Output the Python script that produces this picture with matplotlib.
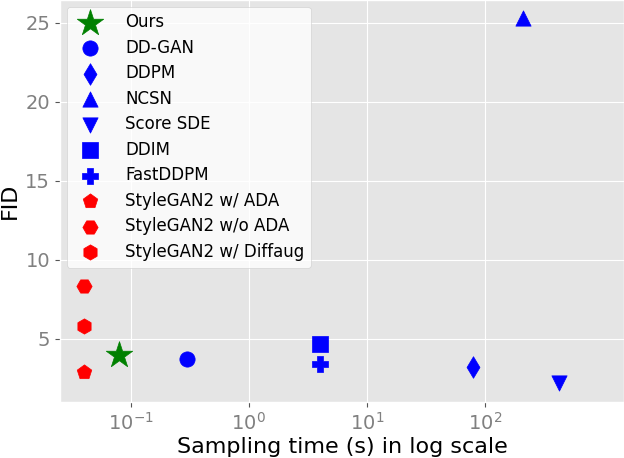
import matplotlib
matplotlib.use('Agg')
import matplotlib.pyplot as plt
import numpy as np

plt.style.use('ggplot')

# methods, sampling time (s), FID
names = ['Ours', 'DD-GAN', 'DDPM', 'NCSN', 'Score SDE', 'DDIM', 'FastDDPM',
         'StyleGAN2 w/ ADA', 'StyleGAN2 w/o ADA', 'StyleGAN2 w/ Diffaug']
times = [0.08, 0.30, 80.0, 210.0, 424.0, 4.05, 4.05, 0.04, 0.04, 0.04]
fids = [4.0, 3.75, 3.21, 25.32, 2.20, 4.67, 3.41, 2.92, 8.32, 5.79]
markers = ['*', 'o', 'd', '^', 'v', 's', 'P', 'p', 'H', 'h']
cols = ['green', 'blue', 'blue', 'blue', 'blue', 'blue', 'blue', 'red', 'red', 'red']
sizes = [400, 121, 121, 121, 121, 121, 121, 121, 121, 121]
xticks = [0.1, 1, 10, 100]

fig = plt.figure(figsize=(6.24, 4.58), dpi=100)
ax = fig.add_axes([0.096, 0.122, 0.904, 0.878])

for n, t, f, m, c, s in zip(names, times, fids, markers, cols, sizes):
    ax.scatter(t, f, marker=m, color=c, s=s, label=n, zorder=3)

ax.set_xscale('log')
ax.set_xlim(10**-1.6, 10**3.18)
ax.set_xticks(xticks)
ax.minorticks_off()
ax.set_ylim(1.0, 26.45)
ax.set_yticks([5, 10, 15, 20, 25])
ax.tick_params(axis='both', labelsize=14, colors='#555555', labelcolor='gray')
ax.set_xlabel('Sampling time (s) in log scale', fontsize=16, color='black', labelpad=2)
ax.set_ylabel('FID', fontsize=16, color='black')

leg = ax.legend(loc='upper left', fontsize=12, scatterpoints=1,
                handletextpad=1.1, labelspacing=0.45, borderaxespad=0.4,
                facecolor='white', framealpha=0.8)

fig.savefig('out.png', dpi=100)
